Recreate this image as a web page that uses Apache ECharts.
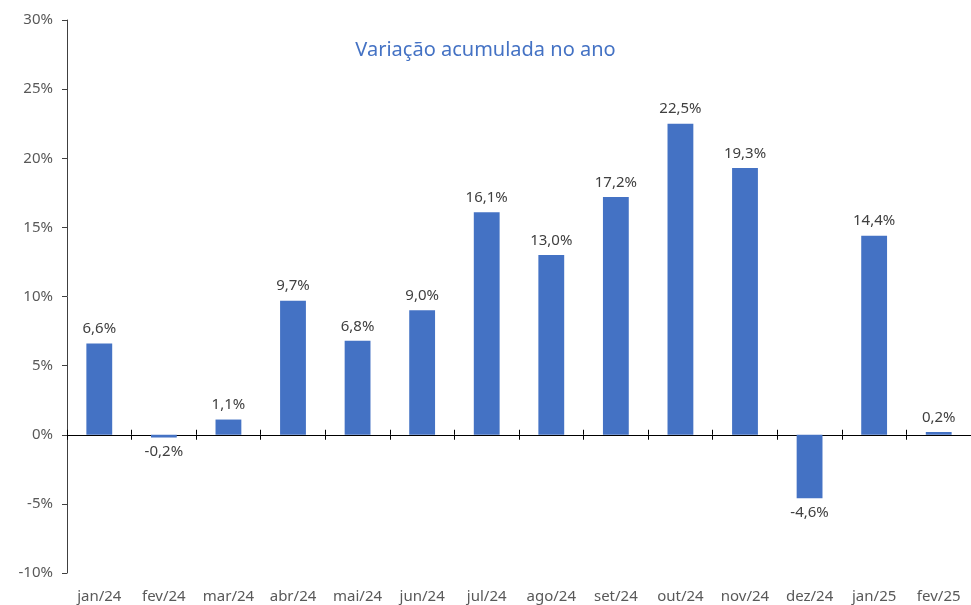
<!DOCTYPE html>
<html>
<head>
<meta charset="utf-8">
<script src="https://cdn.jsdelivr.net/npm/echarts@6/dist/echarts.min.js"></script>
<style>
  html, body { margin: 0; padding: 0; background: #fff; }
  #chart { width: 971px; height: 605px; }
</style>
</head>
<body>
<div id="chart"></div>
<script>
var months = ['jan/24', 'fev/24', 'mar/24', 'abr/24', 'mai/24', 'jun/24', 'jul/24',
              'ago/24', 'set/24', 'out/24', 'nov/24', 'dez/24', 'jan/25', 'fev/25'];
var variacao = [6.6, -0.2, 1.1, 9.7, 6.8, 9.0, 16.1, 13.0, 17.2, 22.5, 19.3, -4.6, 14.4, 0.2];
var titulo = 'Variação acumulada no ano';

var font = '"Noto Sans", "Open Sans", sans-serif';
var myChart = echarts.init(document.getElementById('chart'));

function pct(v) {
    return v.toFixed(1).replace('.', ',') + '%';
}

// eixo x de apoio: linha no zero com marcas dos dois lados
function zeroAxis(inside, yIndex) {
    return {
        type: 'category',
        data: months,
        position: 'top',
        axisLine: { show: true, onZero: true, onZeroAxisIndex: yIndex, lineStyle: { color: '#000', width: 1 } },
        axisTick: { show: true, inside: inside, length: 5, lineStyle: { color: '#000' } },
        axisLabel: { show: false },
        splitLine: { show: false }
    };
}

var option = {
    animation: false,
    title: {
        text: titulo,
        left: 'center',
        top: 35,
        textStyle: { color: '#4472C4', fontFamily: font, fontSize: 20, fontWeight: 'normal' }
    },
    grid: { left: 67, right: 0, top: 20, bottom: 32 },
    xAxis: [{
        type: 'category',
        data: months,
        position: 'bottom',
        axisLine: { show: false, onZero: false },
        axisTick: { show: false },
        axisLabel: { color: '#595959', fontFamily: font, fontSize: 15, margin: 16, interval: 0 }
    }, zeroAxis(false, 0), zeroAxis(true, 1)],
    yAxis: [{
        type: 'value',
        min: -10,
        max: 30,
        interval: 5,
        axisLine: { show: true, lineStyle: { color: '#404040' } },
        axisTick: { show: true, length: 5, lineStyle: { color: '#404040' } },
        splitLine: { show: false },
        axisLabel: {
            color: '#595959', fontFamily: font, fontSize: 15, margin: 14,
            formatter: function(v) { return v + '%'; }
        }
    }, {
        type: 'value',
        min: -10,
        max: 30,
        interval: 5,
        show: false
    }],
    series: [{
        type: 'bar',
        data: variacao.map(function(v) {
            return { value: v, label: { position: v < 0 ? 'bottom' : 'top' } };
        }),
        xAxisIndex: 0,
        yAxisIndex: 0,
        barWidth: '40%',
        itemStyle: { color: '#4472C4' },
        label: {
            show: true,
            distance: 7,
            color: '#404040',
            fontFamily: font,
            fontSize: 15,
            formatter: function(p) { return pct(p.value); }
        }
    }]
};

myChart.setOption(option);
</script>
</body>
</html>
